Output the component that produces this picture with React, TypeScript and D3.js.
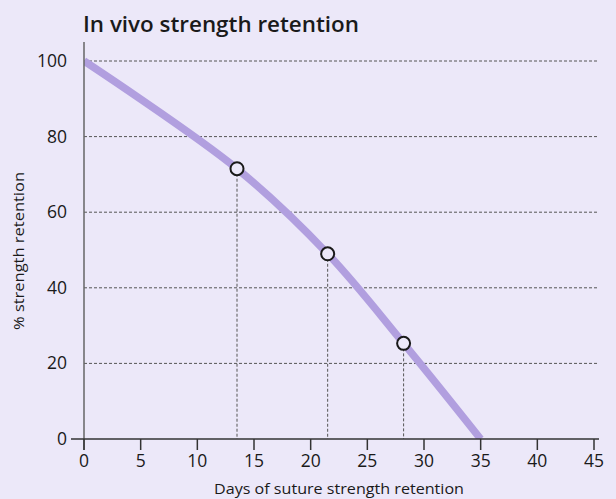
import React from "react";
import * as d3 from "d3";

const curveDays = [0, 13.5, 21.5, 28.2, 35];
const curveRetention = [100, 71.5, 49, 25.3, 0];
const markerDays = [13.5, 21.5, 28.2];
const markerRetention = [71.5, 49, 25.3];
const xTicks = [0, 5, 10, 15, 20, 25, 30, 35, 40, 45];
const yTicks = [0, 20, 40, 60, 80, 100];
const gridValues = [20, 40, 60, 80, 100];

const W = 616;
const H = 499;
const BG = "#ece8f9";
const LINE = "#b19fdf";
const FONT = "'Open Sans', 'DejaVu Sans', sans-serif";

export default function App() {
  const x = d3.scaleLinear().domain([0, 45]).range([84, 594]);
  const y = d3.scaleLinear().domain([0, 100]).range([439, 61]);
  const pts: [number, number][] = curveDays.map((d, i) => [d, curveRetention[i]]);
  const line = d3
    .line<[number, number]>()
    .x((d) => x(d[0]))
    .y((d) => y(d[1]))
    .curve(d3.curveCatmullRom.alpha(0.5));

  return (
    <svg width={W} height={H} style={{ position: "absolute", left: 0, top: 0, display: "block" }}>
      <rect x={0} y={0} width={W} height={H} fill={BG} />
      <defs>
        <clipPath id="clip">
          <rect x={x(0)} y={30} width={560} height={y(0) - 30} />
        </clipPath>
      </defs>
      <text x={83} y={32} fontFamily={FONT} fontSize={22} fontWeight={600} fill="#1a1a1a" textLength={276} lengthAdjust="spacingAndGlyphs">
        In vivo strength retention
      </text>
      {gridValues.map((v) => (
        <line key={"g" + v} x1={x(0)} x2={598} y1={y(v)} y2={y(v)} stroke="#555" strokeWidth={1} strokeDasharray="3,2" />
      ))}
      {markerDays.map((d, i) => (
        <line key={"v" + i} x1={x(d)} x2={x(d)} y1={y(markerRetention[i])} y2={y(0)} stroke="#555" strokeWidth={1} strokeDasharray="3,2" />
      ))}
      <path d={line(pts) || ""} fill="none" stroke={LINE} strokeWidth={7.5} strokeLinecap="butt" clipPath="url(#clip)" />
      {markerDays.map((d, i) => (
        <circle key={"c" + i} cx={x(d)} cy={y(markerRetention[i])} r={6.5} fill={BG} stroke="#1a1a1a" strokeWidth={2} />
      ))}
      <line x1={x(0)} x2={x(0)} y1={42} y2={450} stroke="#666" strokeWidth={1.5} />
      <line x1={71} x2={599} y1={y(0)} y2={y(0)} stroke="#333" strokeWidth={1.5} />
      {xTicks.map((t) => (
        <g key={"xt" + t}>
          <line x1={x(t)} x2={x(t)} y1={y(0)} y2={450} stroke="#333" strokeWidth={1.5} />
          <text x={x(t)} y={467} textAnchor="middle" fontFamily={FONT} fontSize={17.5} fill="#1a1a1a">
            {t}
          </text>
        </g>
      ))}
      {yTicks.map((t) => (
        <text key={"yt" + t} x={67} y={y(t) + 6} textAnchor="end" fontFamily={FONT} fontSize={17.5} fill="#1a1a1a">
          {t}
        </text>
      ))}
      <text x={339} y={494} textAnchor="middle" fontFamily={FONT} fontSize={15} fill="#1a1a1a" textLength={250} lengthAdjust="spacingAndGlyphs">
        Days of suture strength retention
      </text>
      <text
        transform={`translate(24, 251) rotate(-90)`}
        textAnchor="middle"
        fontFamily={FONT}
        fontSize={15}
        fill="#1a1a1a"
        textLength={158}
        lengthAdjust="spacingAndGlyphs"
      >
        % strength retention
      </text>
    </svg>
  );
}
